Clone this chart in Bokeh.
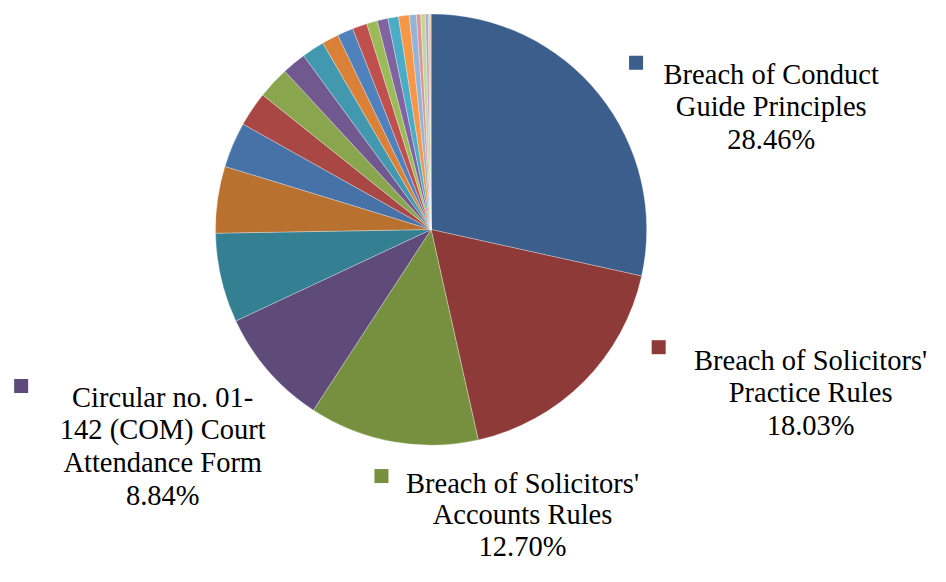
import math
from bokeh.plotting import figure
from bokeh.models import Range1d
from bokeh.core.properties import value
from bokeh.embed import file_html
from bokeh.resources import INLINE

# ---- data (percent shares, clockwise from 12 o'clock) ----
shares = [28.46, 18.03, 12.70, 8.84, 6.70, 5.00,
          3.40, 2.60, 2.40, 1.80, 1.70, 1.25,
          1.20, 1.10, 0.80, 0.80, 0.80, 0.80,
          0.53, 0.32, 0.36, 0.20, 0.12, 0.09]
colors = ["#3B5E8D", "#8E3A38", "#77903F", "#5F4B7A", "#357F93", "#B8712F",
          "#4672A8", "#A84743", "#89A54E", "#71588F", "#4298AF", "#DA8137",
          "#4F81BD", "#C0504D", "#9BBB59", "#8064A2", "#4BACC6", "#F79646",
          "#95B3D7", "#D99694", "#C3D69B", "#B3A2C7", "#93CDDD", "#FAC090"]
labelled_idx = [0, 1, 3, 2]
label_names = [["Breach of Conduct", "Guide Principles"],
               ["Breach of Solicitors'", "Practice Rules"],
               ["Circular no. 01-", "142 (COM) Court", "Attendance Form"],
               ["Breach of Solicitors'", "Accounts Rules"]]

# ---- layout (reference-window pixels, mapped into the figure) ----
W, H = 930, 566
SX, SY = W / 946, H / 582
def Y(sy):
    return H - sy * SY
def X(sx):
    return sx * SX

cx, cy, r = 438, 235.5, 220.5
label_x = [784, 824, 165, 531]
label_y0 = [76, 370, 408, 497]
line_h = [33.5, 33.5, 33.5, 32]
marker_pos = [(646.5, 64), (669.5, 356.5), (21, 396.5), (387.5, 489)]

p = figure(width=W, height=H, output_backend="svg", toolbar_location=None,
           x_range=Range1d(0, W), y_range=Range1d(0, H), min_border=0,
           outline_line_color=None)
p.axis.visible = False
p.grid.visible = False
p.background_fill_color = "white"
p.border_fill_color = "white"

total = sum(shares)
starts, ends = [], []
cum = 0.0
for v in shares:
    a0 = math.pi / 2 - 2 * math.pi * (cum + v) / total
    a1 = math.pi / 2 - 2 * math.pi * cum / total
    starts.append(a0)
    ends.append(a1)
    cum += v

p.wedge(x=X(cx), y=Y(cy), radius=r * (SX + SY) / 2, start_angle=starts, end_angle=ends,
        fill_color=colors, line_color="white", line_width=0.5, line_alpha=0.6)

tx, ty, tt = [], [], []
for k, idx in enumerate(labelled_idx):
    lines = label_names[k] + [f"{shares[idx]:.2f}%"]
    for j, ln in enumerate(lines):
        tx.append(X(label_x[k]))
        ty.append(Y(label_y0[k] + j * line_h[k]))
        tt.append(ln)

p.text(x=tx, y=ty, text=tt, text_font=value("Liberation Serif"),
       text_font_size="28.5px", text_align="center", text_baseline="alphabetic",
       text_color="black")

p.scatter(x=[X(m[0]) for m in marker_pos], y=[Y(m[1]) for m in marker_pos],
          marker="square", size=14, fill_color=[colors[i] for i in labelled_idx],
          line_color=None)

open("out.html", "w").write(file_html(p, INLINE))
